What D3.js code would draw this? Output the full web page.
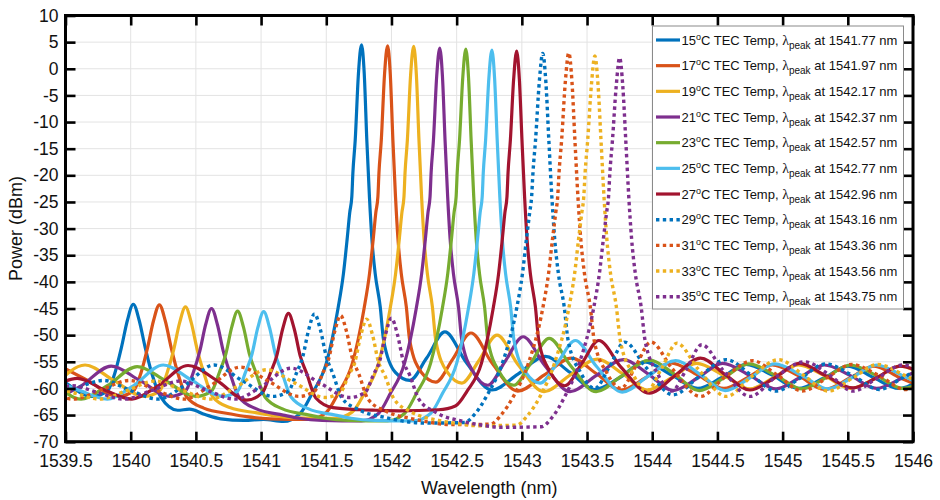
<!DOCTYPE html>
<html>
<head>
<meta charset="utf-8">
<script src="https://cdn.jsdelivr.net/npm/d3@7"></script>
<style>
  body { margin: 0; background: #fff; }
  svg { display: block; }
</style>
</head>
<body>
<svg id="chart" width="940" height="500"></svg>
<script>
// ---- data ----
const temperatures = [15, 17, 19, 21, 23, 25, 27, 29, 31, 33, 35];
const peakLabels = ["1541.77", "1541.97", "1542.17", "1542.37", "1542.57", "1542.77",
                    "1542.96", "1543.16", "1543.36", "1543.56", "1543.75"];
const xTickValues = [1539.5, 1540, 1540.5, 1541, 1541.5, 1542, 1542.5, 1543, 1543.5, 1544, 1544.5, 1545, 1545.5, 1546];
const xTickLabels = ["1539.5", "1540", "1540.5", "1541", "1541.5", "1542", "1542.5", "1543", "1543.5", "1544", "1544.5", "1545", "1545.5", "1546"];
const yTickValues = [-70, -65, -60, -55, -50, -45, -40, -35, -30, -25, -20, -15, -10, -5, 0, 5, 10];
const yTickLabels = ["-70", "-65", "-60", "-55", "-50", "-45", "-40", "-35", "-30", "-25", "-20", "-15", "-10", "-5", "0", "5", "10"];

// optical spectra, [wavelength nm, power dBm]
const spec15 = [[1539.25,-55.7],[1539.47,-58.5],[1539.70,-61.5],[1539.82,-60.5],[1539.88,-57.0],[1539.93,-52.2],[1539.975,-47.2],[1540.02,-44.2],[1540.065,-47.2],[1540.11,-52.2],[1540.16,-57.0],[1540.23,-61.6],[1540.36,-64.1],[1540.45,-63.9],[1540.57,-64.9],[1540.69,-65.7],[1540.87,-66.0],[1541.02,-65.8],[1541.17,-66.2],[1541.30,-64.7],[1541.39,-61.0],[1541.50,-55.3],[1541.59,-45.0],[1541.632,-38.4],[1541.66,-32.0],[1541.68,-27.0],[1541.696,-24.0],[1541.704,-19.6],[1541.722,-13.4],[1541.747,-0.8],[1541.77,4.5],[1541.791,-0.8],[1541.811,-13.4],[1541.831,-24.0],[1541.85,-32.0],[1541.875,-38.4],[1541.914,-44.7],[1541.94,-51.0],[1542.03,-57.0],[1542.14,-58.5],[1542.27,-54.3],[1542.41,-49.4],[1542.57,-55.0],[1542.77,-60.3],[1542.97,-57.3],[1543.18,-54.0],[1543.37,-57.0],[1543.56,-60.2],[1543.75,-58.0],[1543.94,-55.0],[1544.15,-57.5],[1544.35,-60.0],[1544.53,-58.0],[1544.72,-55.5],[1544.92,-57.5],[1545.12,-60.0],[1545.32,-58.0],[1545.50,-55.8],[1545.70,-58.0],[1545.89,-60.0],[1546.07,-58.0]];
const spec17 = [[1539.45,-55.7],[1539.67,-58.5],[1539.90,-61.5],[1540.02,-60.5],[1540.08,-57.0],[1540.13,-52.3],[1540.175,-47.3],[1540.22,-44.3],[1540.265,-47.3],[1540.31,-52.3],[1540.36,-57.0],[1540.43,-61.6],[1540.56,-63.7],[1540.77,-64.8],[1540.89,-65.3],[1541.07,-65.7],[1541.37,-65.8],[1541.50,-64.5],[1541.59,-61.0],[1541.70,-55.3],[1541.79,-45.0],[1541.832,-38.4],[1541.86,-32.0],[1541.88,-27.0],[1541.896,-24.0],[1541.904,-19.6],[1541.922,-13.4],[1541.947,-1.0],[1541.97,4.3],[1541.991,-1.0],[1542.011,-13.4],[1542.031,-24.0],[1542.05,-32.0],[1542.075,-38.4],[1542.114,-44.7],[1542.14,-51.0],[1542.23,-57.0],[1542.34,-58.8],[1542.47,-54.5],[1542.61,-49.6],[1542.77,-55.2],[1542.97,-60.5],[1543.17,-57.5],[1543.38,-54.3],[1543.57,-57.2],[1543.76,-60.3],[1543.95,-58.0],[1544.14,-55.2],[1544.35,-57.5],[1544.55,-60.0],[1544.73,-58.0],[1544.92,-55.6],[1545.12,-57.6],[1545.32,-60.2],[1545.52,-58.0],[1545.70,-55.8],[1545.90,-58.0],[1546.09,-60.0]];
const spec19 = [[1539.42,-59.5],[1539.65,-55.6],[1539.87,-58.5],[1540.10,-61.5],[1540.22,-60.5],[1540.28,-57.0],[1540.33,-52.7],[1540.375,-47.7],[1540.42,-44.7],[1540.465,-47.7],[1540.51,-52.7],[1540.56,-57.0],[1540.63,-61.6],[1540.76,-63.6],[1540.97,-64.6],[1541.09,-65.1],[1541.27,-65.5],[1541.57,-65.6],[1541.70,-64.4],[1541.79,-61.0],[1541.90,-55.3],[1541.99,-45.0],[1542.032,-38.4],[1542.06,-32.0],[1542.08,-27.0],[1542.096,-24.0],[1542.104,-19.6],[1542.122,-13.4],[1542.147,-1.1],[1542.17,4.2],[1542.191,-1.1],[1542.211,-13.4],[1542.231,-24.0],[1542.25,-32.0],[1542.275,-38.4],[1542.314,-44.7],[1542.34,-51.0],[1542.43,-57.0],[1542.54,-59.0],[1542.67,-54.8],[1542.81,-50.0],[1542.97,-55.5],[1543.17,-60.6],[1543.37,-57.5],[1543.58,-54.5],[1543.77,-57.2],[1543.96,-60.3],[1544.15,-58.0],[1544.34,-55.3],[1544.55,-57.6],[1544.75,-60.1],[1544.93,-58.0],[1545.12,-55.6],[1545.32,-57.6],[1545.52,-60.0],[1545.72,-58.0],[1545.90,-55.8],[1546.10,-58.0]];
const spec21 = [[1539.42,-62.0],[1539.62,-59.5],[1539.85,-55.8],[1540.07,-58.5],[1540.30,-61.5],[1540.42,-60.5],[1540.48,-57.0],[1540.53,-53.0],[1540.575,-48.0],[1540.62,-45.0],[1540.665,-48.0],[1540.71,-53.0],[1540.76,-57.0],[1540.83,-61.6],[1540.96,-63.8],[1541.17,-65.0],[1541.29,-65.6],[1541.47,-66.0],[1541.77,-66.1],[1541.90,-64.7],[1541.99,-61.0],[1542.10,-55.3],[1542.19,-45.0],[1542.232,-38.4],[1542.26,-32.0],[1542.28,-27.0],[1542.296,-24.0],[1542.304,-19.6],[1542.322,-13.4],[1542.347,-1.4],[1542.37,3.9],[1542.391,-1.4],[1542.411,-13.4],[1542.431,-24.0],[1542.45,-32.0],[1542.475,-38.4],[1542.514,-44.7],[1542.54,-51.0],[1542.63,-57.0],[1542.74,-59.4],[1542.87,-55.0],[1543.01,-50.3],[1543.17,-55.5],[1543.37,-60.6],[1543.57,-57.6],[1543.78,-54.6],[1543.97,-57.3],[1544.16,-60.4],[1544.35,-58.0],[1544.54,-55.3],[1544.75,-57.6],[1544.95,-60.1],[1545.13,-58.0],[1545.32,-55.6],[1545.52,-57.6],[1545.72,-60.0],[1545.92,-58.0],[1546.10,-55.8]];
const spec23 = [[1539.42,-59.0],[1539.62,-62.0],[1539.82,-59.5],[1540.05,-55.9],[1540.27,-58.6],[1540.50,-61.5],[1540.62,-60.5],[1540.68,-57.0],[1540.73,-53.5],[1540.775,-48.5],[1540.82,-45.5],[1540.865,-48.5],[1540.91,-53.5],[1540.96,-57.0],[1541.03,-61.6],[1541.16,-63.8],[1541.37,-65.0],[1541.49,-65.6],[1541.67,-66.0],[1541.97,-66.1],[1542.10,-64.7],[1542.19,-61.0],[1542.30,-55.3],[1542.39,-45.0],[1542.432,-38.4],[1542.46,-32.0],[1542.48,-27.0],[1542.496,-24.0],[1542.504,-19.6],[1542.522,-13.4],[1542.547,-1.6],[1542.57,3.7],[1542.591,-1.6],[1542.611,-13.4],[1542.631,-24.0],[1542.65,-32.0],[1542.675,-38.4],[1542.714,-44.7],[1542.74,-51.0],[1542.83,-57.0],[1542.94,-59.4],[1543.07,-55.2],[1543.21,-50.6],[1543.37,-55.6],[1543.57,-60.6],[1543.77,-57.6],[1543.98,-54.7],[1544.17,-57.3],[1544.36,-60.4],[1544.55,-58.0],[1544.74,-55.4],[1544.95,-57.6],[1545.15,-60.1],[1545.33,-58.0],[1545.52,-55.6],[1545.72,-57.6],[1545.92,-60.0],[1546.12,-58.0]];
const spec25 = [[1539.40,-58.3],[1539.62,-60.5],[1539.82,-62.0],[1540.02,-59.5],[1540.25,-55.6],[1540.47,-58.5],[1540.70,-61.5],[1540.82,-60.5],[1540.88,-57.0],[1540.93,-53.6],[1540.975,-48.6],[1541.02,-45.6],[1541.065,-48.6],[1541.11,-53.6],[1541.16,-57.0],[1541.23,-61.6],[1541.36,-63.8],[1541.57,-65.0],[1541.69,-65.6],[1541.87,-66.0],[1542.17,-66.1],[1542.30,-64.7],[1542.39,-61.0],[1542.50,-55.3],[1542.59,-45.0],[1542.632,-38.4],[1542.66,-32.0],[1542.68,-27.0],[1542.696,-24.0],[1542.704,-19.6],[1542.722,-13.4],[1542.747,-1.8],[1542.77,3.5],[1542.791,-1.8],[1542.811,-13.4],[1542.831,-24.0],[1542.85,-32.0],[1542.875,-38.4],[1542.914,-44.7],[1542.94,-51.0],[1543.03,-57.0],[1543.14,-59.0],[1543.27,-55.3],[1543.41,-51.0],[1543.57,-55.8],[1543.77,-60.7],[1543.97,-57.7],[1544.18,-54.8],[1544.37,-57.4],[1544.56,-60.4],[1544.75,-58.0],[1544.94,-55.4],[1545.15,-57.6],[1545.35,-60.1],[1545.53,-58.0],[1545.72,-55.6],[1545.92,-57.6],[1546.12,-60.0]];
const spec27 = [[1539.16,-62.0],[1539.40,-59.6],[1539.59,-58.1],[1539.80,-60.3],[1540.01,-62.0],[1540.21,-59.5],[1540.44,-55.7],[1540.66,-58.5],[1540.89,-62.2],[1541.01,-60.8],[1541.07,-57.2],[1541.12,-53.9],[1541.165,-48.9],[1541.21,-45.9],[1541.255,-48.9],[1541.30,-53.9],[1541.35,-57.2],[1541.42,-61.8],[1541.55,-63.6],[1541.76,-64.0],[1541.88,-64.1],[1542.06,-64.2],[1542.36,-64.0],[1542.49,-63.3],[1542.58,-60.5],[1542.69,-55.3],[1542.78,-45.0],[1542.822,-38.4],[1542.85,-32.0],[1542.87,-27.0],[1542.886,-24.0],[1542.894,-19.6],[1542.912,-13.4],[1542.937,-2.0],[1542.96,3.3],[1542.981,-2.0],[1543.001,-13.4],[1543.021,-24.0],[1543.04,-32.0],[1543.065,-38.4],[1543.104,-44.7],[1543.13,-51.0],[1543.22,-57.0],[1543.33,-59.5],[1543.46,-55.3],[1543.59,-51.0],[1543.76,-56.0],[1543.98,-60.9],[1544.17,-57.7],[1544.37,-54.3],[1544.56,-57.4],[1544.75,-60.3],[1544.94,-58.0],[1545.13,-55.3],[1545.33,-57.6],[1545.54,-59.9],[1545.72,-58.0],[1545.90,-55.8],[1546.10,-57.5]];
const spec29 = [[1539.36,-62.0],[1539.58,-60.0],[1539.79,-58.5],[1540.00,-60.4],[1540.21,-62.0],[1540.41,-59.5],[1540.64,-55.6],[1540.86,-58.6],[1541.09,-61.5],[1541.21,-60.5],[1541.27,-57.2],[1541.32,-54.0],[1541.365,-49.0],[1541.41,-46.0],[1541.455,-49.0],[1541.50,-54.0],[1541.55,-57.2],[1541.62,-61.8],[1541.75,-64.0],[1541.96,-65.5],[1542.08,-66.1],[1542.26,-66.5],[1542.56,-66.4],[1542.64,-64.8],[1542.74,-61.0],[1542.85,-55.3],[1542.96,-45.0],[1543.005,-38.4],[1543.035,-32.0],[1543.06,-27.0],[1543.075,-24.0],[1543.085,-19.6],[1543.105,-13.4],[1543.134,-2.4],[1543.16,2.9],[1543.184,-2.4],[1543.207,-13.4],[1543.23,-24.0],[1543.252,-32.0],[1543.28,-38.4],[1543.325,-44.7],[1543.355,-51.0],[1543.45,-57.0],[1543.56,-60.0],[1543.67,-56.0],[1543.79,-51.3],[1543.95,-56.0],[1544.16,-61.2],[1544.36,-57.8],[1544.57,-54.6],[1544.76,-57.5],[1544.95,-60.5],[1545.14,-58.0],[1545.33,-55.4],[1545.54,-57.6],[1545.74,-60.2],[1545.92,-58.0],[1546.11,-55.6]];
const spec31 = [[1539.16,-59.5],[1539.36,-60.8],[1539.56,-62.0],[1539.78,-60.2],[1539.99,-58.5],[1540.20,-60.4],[1540.41,-62.0],[1540.61,-59.5],[1540.84,-56.0],[1541.06,-58.7],[1541.29,-61.5],[1541.41,-60.5],[1541.47,-57.3],[1541.52,-54.3],[1541.565,-49.3],[1541.61,-46.3],[1541.655,-49.3],[1541.70,-54.3],[1541.75,-57.3],[1541.82,-62.0],[1541.95,-64.2],[1542.16,-65.7],[1542.28,-66.3],[1542.46,-66.8],[1542.76,-66.7],[1542.84,-65.0],[1542.94,-61.3],[1543.05,-55.3],[1543.16,-45.0],[1543.205,-38.4],[1543.235,-32.0],[1543.26,-27.0],[1543.275,-24.0],[1543.285,-19.6],[1543.305,-13.4],[1543.334,-2.3],[1543.36,3.0],[1543.384,-2.3],[1543.407,-13.4],[1543.43,-24.0],[1543.452,-32.0],[1543.48,-38.4],[1543.525,-44.7],[1543.555,-51.0],[1543.65,-57.0],[1543.76,-60.0],[1543.87,-56.0],[1543.99,-51.3],[1544.15,-56.2],[1544.37,-61.5],[1544.56,-57.8],[1544.77,-54.8],[1544.96,-57.5],[1545.15,-60.5],[1545.34,-58.0],[1545.53,-55.5],[1545.74,-57.6],[1545.94,-60.2],[1546.12,-58.0]];
const spec33 = [[1539.36,-59.5],[1539.56,-60.8],[1539.76,-62.0],[1539.98,-60.3],[1540.19,-58.6],[1540.40,-60.4],[1540.61,-62.0],[1540.81,-59.7],[1541.04,-56.5],[1541.26,-59.0],[1541.49,-61.7],[1541.61,-60.7],[1541.67,-57.6],[1541.72,-55.0],[1541.765,-50.0],[1541.81,-47.0],[1541.855,-50.0],[1541.90,-55.0],[1541.95,-57.6],[1542.02,-62.0],[1542.15,-64.4],[1542.36,-66.0],[1542.48,-66.5],[1542.66,-67.0],[1542.96,-66.9],[1543.04,-65.2],[1543.14,-61.5],[1543.25,-55.3],[1543.36,-45.0],[1543.405,-38.4],[1543.435,-32.0],[1543.46,-27.0],[1543.475,-24.0],[1543.485,-19.6],[1543.505,-13.4],[1543.534,-2.9],[1543.56,2.4],[1543.584,-2.9],[1543.607,-13.4],[1543.63,-24.0],[1543.652,-32.0],[1543.68,-38.4],[1543.725,-44.7],[1543.755,-51.0],[1543.85,-57.2],[1543.96,-60.5],[1544.07,-56.3],[1544.19,-51.5],[1544.35,-56.3],[1544.57,-61.5],[1544.76,-57.8],[1544.97,-54.6],[1545.16,-57.5],[1545.35,-60.5],[1545.54,-58.0],[1545.73,-55.5],[1545.94,-57.6],[1546.14,-60.0]];
const spec35 = [[1539.15,-62.0],[1539.35,-60.6],[1539.55,-59.5],[1539.75,-60.8],[1539.95,-62.0],[1540.17,-60.3],[1540.38,-58.6],[1540.59,-60.4],[1540.80,-62.0],[1541.00,-59.7],[1541.23,-56.2],[1541.45,-59.0],[1541.68,-61.7],[1541.80,-60.7],[1541.86,-57.5],[1541.91,-54.8],[1541.955,-49.8],[1542.00,-46.8],[1542.045,-49.8],[1542.09,-54.8],[1542.14,-57.5],[1542.21,-62.0],[1542.34,-64.5],[1542.55,-66.2],[1542.67,-66.8],[1542.85,-67.3],[1543.15,-67.2],[1543.23,-65.5],[1543.33,-61.5],[1543.44,-55.3],[1543.55,-45.0],[1543.595,-38.4],[1543.625,-32.0],[1543.65,-27.0],[1543.665,-24.0],[1543.675,-19.6],[1543.695,-13.4],[1543.724,-3.2],[1543.75,2.1],[1543.774,-3.2],[1543.797,-13.4],[1543.82,-24.0],[1543.842,-32.0],[1543.87,-38.4],[1543.915,-44.7],[1543.945,-51.0],[1544.04,-57.2],[1544.15,-60.5],[1544.26,-56.5],[1544.38,-51.8],[1544.54,-56.5],[1544.75,-61.5],[1544.95,-57.8],[1545.17,-55.0],[1545.36,-57.5],[1545.54,-60.5],[1545.73,-58.0],[1545.92,-55.6],[1546.12,-57.6]];

const spectra = [spec15, spec17, spec19, spec21, spec23, spec25, spec27, spec29, spec31, spec33, spec35];

// ---- styling ----
const seriesColors = ["#0072BD", "#D95319", "#EDB120", "#7E2F8E", "#77AC30", "#4DBEEE", "#A2142F",
                      "#0072BD", "#D95319", "#EDB120", "#7E2F8E"];
const seriesDotted = [false, false, false, false, false, false, false, true, true, true, true];
const FONT = "'Liberation Sans', Arial, Helvetica, sans-serif";

const svg = d3.select("#chart");
const plot = { left: 65.5, right: 913, top: 15.5, bottom: 441.7 };

const x = d3.scaleLinear().domain([1539.5, 1546]).range([plot.left, plot.right]);
const y = d3.scaleLinear().domain([-70, 10]).range([plot.bottom, plot.top]);

svg.append("rect").attr("width", 940).attr("height", 500).attr("fill", "#fff");

// grid
const grid = svg.append("g").attr("stroke", "#e3e3e3").attr("stroke-width", 1);
grid.selectAll("line.gx").data(xTickValues).join("line")
  .attr("x1", d => x(d)).attr("x2", d => x(d))
  .attr("y1", plot.top).attr("y2", plot.bottom);
grid.selectAll("line.gy").data(yTickValues).join("line")
  .attr("y1", d => y(d)).attr("y2", d => y(d))
  .attr("x1", plot.left).attr("x2", plot.right);

// curves
svg.append("clipPath").attr("id", "plotClip").append("rect")
  .attr("x", plot.left).attr("y", plot.top)
  .attr("width", plot.right - plot.left).attr("height", plot.bottom - plot.top);

const line = d3.line()
  .x(d => x(d[0]))
  .y(d => y(d[1]))
  .curve(d3.curveMonotoneX);

const curves = svg.append("g").attr("clip-path", "url(#plotClip)");
spectra.forEach((s, i) => {
  curves.append("path")
    .attr("d", line(s))
    .attr("fill", "none")
    .attr("stroke", seriesColors[i])
    .attr("stroke-width", seriesDotted[i] ? 3.4 : 3.2)
    .attr("stroke-linejoin", "round")
    .attr("stroke-dasharray", seriesDotted[i] ? "3.4,3.4" : null);
});

// axes
const xLabelMap = new Map(xTickValues.map((v, i) => [v, xTickLabels[i]]));
const yLabelMap = new Map(yTickValues.map((v, i) => [v, yTickLabels[i]]));

function styleAxis(g) {
  g.select(".domain").remove();
  g.selectAll(".tick line").attr("stroke", "#000").attr("stroke-width", 2.6);
  g.selectAll(".tick text").attr("fill", "#111").style("font-family", FONT).style("font-size", "17.5px");
}

svg.append("g").attr("transform", `translate(0,${plot.bottom})`)
  .call(d3.axisBottom(x).tickValues(xTickValues).tickSize(-10).tickPadding(13)
    .tickFormat(d => xLabelMap.get(d)))
  .call(styleAxis);
svg.append("g").attr("transform", `translate(${plot.left},0)`)
  .call(d3.axisLeft(y).tickValues(yTickValues).tickSize(-10).tickPadding(7)
    .tickFormat(d => yLabelMap.get(d)))
  .call(styleAxis);
svg.append("g").attr("transform", `translate(0,${plot.top})`)
  .call(d3.axisTop(x).tickValues(xTickValues).tickSize(-10).tickFormat(""))
  .call(styleAxis);
svg.append("g").attr("transform", `translate(${plot.right},0)`)
  .call(d3.axisRight(y).tickValues(yTickValues).tickSize(-10).tickFormat(""))
  .call(styleAxis);

// frame
svg.append("rect")
  .attr("x", plot.left).attr("y", plot.top)
  .attr("width", plot.right - plot.left).attr("height", plot.bottom - plot.top)
  .attr("fill", "none").attr("stroke", "#000").attr("stroke-width", 3);

// axis titles
svg.append("text")
  .attr("x", (plot.left + plot.right) / 2).attr("y", 494)
  .attr("text-anchor", "middle")
  .style("font-family", FONT).style("font-size", "18px").attr("fill", "#111")
  .text("Wavelength (nm)");
svg.append("text")
  .attr("transform", `translate(22,${(plot.top + plot.bottom) / 2}) rotate(-90)`)
  .attr("text-anchor", "middle")
  .style("font-family", FONT).style("font-size", "18px").attr("fill", "#111")
  .text("Power (dBm)");

// legend
const legend = svg.append("g");
const lg = { x: 652.5, y: 26, w: 251, h: 283, row0: 40, rowStep: 25.67 };
legend.append("rect")
  .attr("x", lg.x).attr("y", lg.y).attr("width", lg.w).attr("height", lg.h)
  .attr("fill", "#fff").attr("stroke", "#8a8a8a").attr("stroke-width", 1);

temperatures.forEach((t, i) => {
  const cy = lg.row0 + i * lg.rowStep;
  legend.append("line")
    .attr("x1", 656).attr("x2", 680).attr("y1", cy).attr("y2", cy)
    .attr("stroke", seriesColors[i])
    .attr("stroke-width", seriesDotted[i] ? 3.4 : 3.2)
    .attr("stroke-dasharray", seriesDotted[i] ? "3.4,3.4" : null);

  const txt = legend.append("text")
    .attr("x", 681.5).attr("y", cy + 4.6)
    .style("font-family", FONT).style("font-size", "13px").attr("fill", "#111");
  txt.append("tspan").text(String(t));
  txt.append("tspan").attr("dy", -5).style("font-size", "9px").text("o");
  txt.append("tspan").attr("dy", 5).text("C TEC Temp, ");
  txt.append("tspan").style("font-family", "'Liberation Serif', 'Times New Roman', serif")
    .style("font-size", "14px").text("\u03bb");
  txt.append("tspan").attr("dy", 4).style("font-size", "10px").text("peak");
  txt.append("tspan").attr("dy", -4).text(` at ${peakLabels[i]} nm`);
});
</script>
</body>
</html>
